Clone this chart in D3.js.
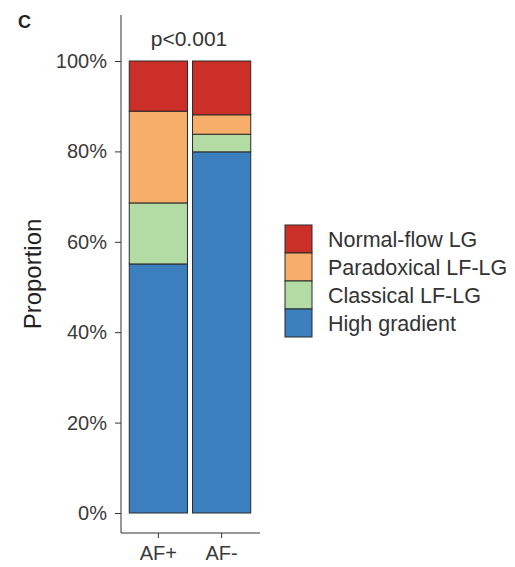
<!DOCTYPE html>
<html>
<head>
<meta charset="utf-8">
<script src="https://cdn.jsdelivr.net/npm/d3@7"></script>
<style>
  html, body { margin: 0; padding: 0; background: #fff; }
  svg { display: block; font-family: "Liberation Sans", Arial, sans-serif; }
</style>
</head>
<body>
<svg id="chart" width="515" height="567"></svg>
<script>
// Groups on the x axis
const groups = ["AF+", "AF-"];
// Flow/gradient categories, stacked bottom to top
const categories = ["High gradient", "Classical LF-LG", "Paradoxical LF-LG", "Normal-flow LG"];
// Percent of each group per category (same order as categories)
const highGradient = [55.1, 79.9];
const classicalLFLG = [13.5, 3.9];
const paradoxicalLFLG = [20.3, 4.3];
const normalFlowLG = [11.1, 11.9];
const yTicks = [0, 20, 40, 60, 80, 100];
const colors = ["#3b7fbf", "#b2dca3", "#f6ae6a", "#cb2f28"];
const legendOrder = ["Normal-flow LG", "Paradoxical LF-LG", "Classical LF-LG", "High gradient"];
const pLabel = "p<0.001";

const svg = d3.select("#chart");

const x = d3.scaleBand().domain(groups).range([128, 252]).paddingInner(0.08).paddingOuter(0.02);
const y = d3.scaleLinear().domain([0, 100]).range([513, 61]);
const color = d3.scaleOrdinal().domain(categories).range(colors);

const rows = groups.map((g, i) => ({
  group: g,
  "High gradient": highGradient[i],
  "Classical LF-LG": classicalLFLG[i],
  "Paradoxical LF-LG": paradoxicalLFLG[i],
  "Normal-flow LG": normalFlowLG[i]
}));
const stacked = d3.stack().keys(categories)(rows);

// Stacked bars
svg.append("g").selectAll("g").data(stacked).join("g")
  .attr("fill", d => color(d.key))
  .selectAll("rect").data(d => d).join("rect")
  .attr("x", d => x(d.data.group))
  .attr("width", x.bandwidth())
  .attr("y", d => y(d[1]))
  .attr("height", d => y(d[0]) - y(d[1]))
  .attr("stroke", "#2a2a2a")
  .attr("stroke-width", 1);

// Y axis
const yAxis = svg.append("g").attr("transform", "translate(121,0)")
  .call(d3.axisLeft(y).tickValues(yTicks).tickFormat(d => d + "%").tickSize(6).tickPadding(8));
yAxis.select(".domain").attr("d", "M0,15V533").attr("stroke", "#333");
yAxis.selectAll(".tick line").attr("stroke", "#333");
yAxis.selectAll(".tick text").attr("fill", "#3a3a3a").attr("font-size", 20);

// X axis
const xAxis = svg.append("g").attr("transform", "translate(0,533)")
  .call(d3.axisBottom(x).tickSize(5).tickPadding(8));
xAxis.select(".domain").attr("d", "M121,0H260").attr("stroke", "#333");
xAxis.selectAll(".tick line").attr("stroke", "#333");
xAxis.selectAll(".tick text").attr("fill", "#3a3a3a").attr("font-size", 20);

// Axis title
svg.append("text")
  .attr("transform", "translate(41,274) rotate(-90)")
  .attr("text-anchor", "middle")
  .attr("font-size", 24)
  .attr("fill", "#222")
  .text("Proportion");

// Panel letter
svg.append("text")
  .attr("x", 18).attr("y", 28)
  .attr("font-size", 18).attr("font-weight", "bold")
  .attr("fill", "#222")
  .text("C");

// Significance annotation
svg.append("text")
  .attr("x", 189).attr("y", 46)
  .attr("text-anchor", "middle")
  .attr("font-size", 21)
  .attr("fill", "#333")
  .text(pLabel);

// Legend
const legend = svg.append("g").attr("transform", "translate(285,225)");
const keyH = 28;
legendOrder.forEach((k, i) => {
  legend.append("rect")
    .attr("x", 0).attr("y", i * keyH)
    .attr("width", 27).attr("height", keyH)
    .attr("fill", color(k))
    .attr("stroke", "#2a2a2a").attr("stroke-width", 1);
  legend.append("text")
    .attr("x", 43).attr("y", i * keyH + keyH / 2)
    .attr("dy", "0.35em")
    .attr("font-size", 21.5)
    .attr("fill", "#333")
    .text(k);
});
</script>
</body>
</html>
